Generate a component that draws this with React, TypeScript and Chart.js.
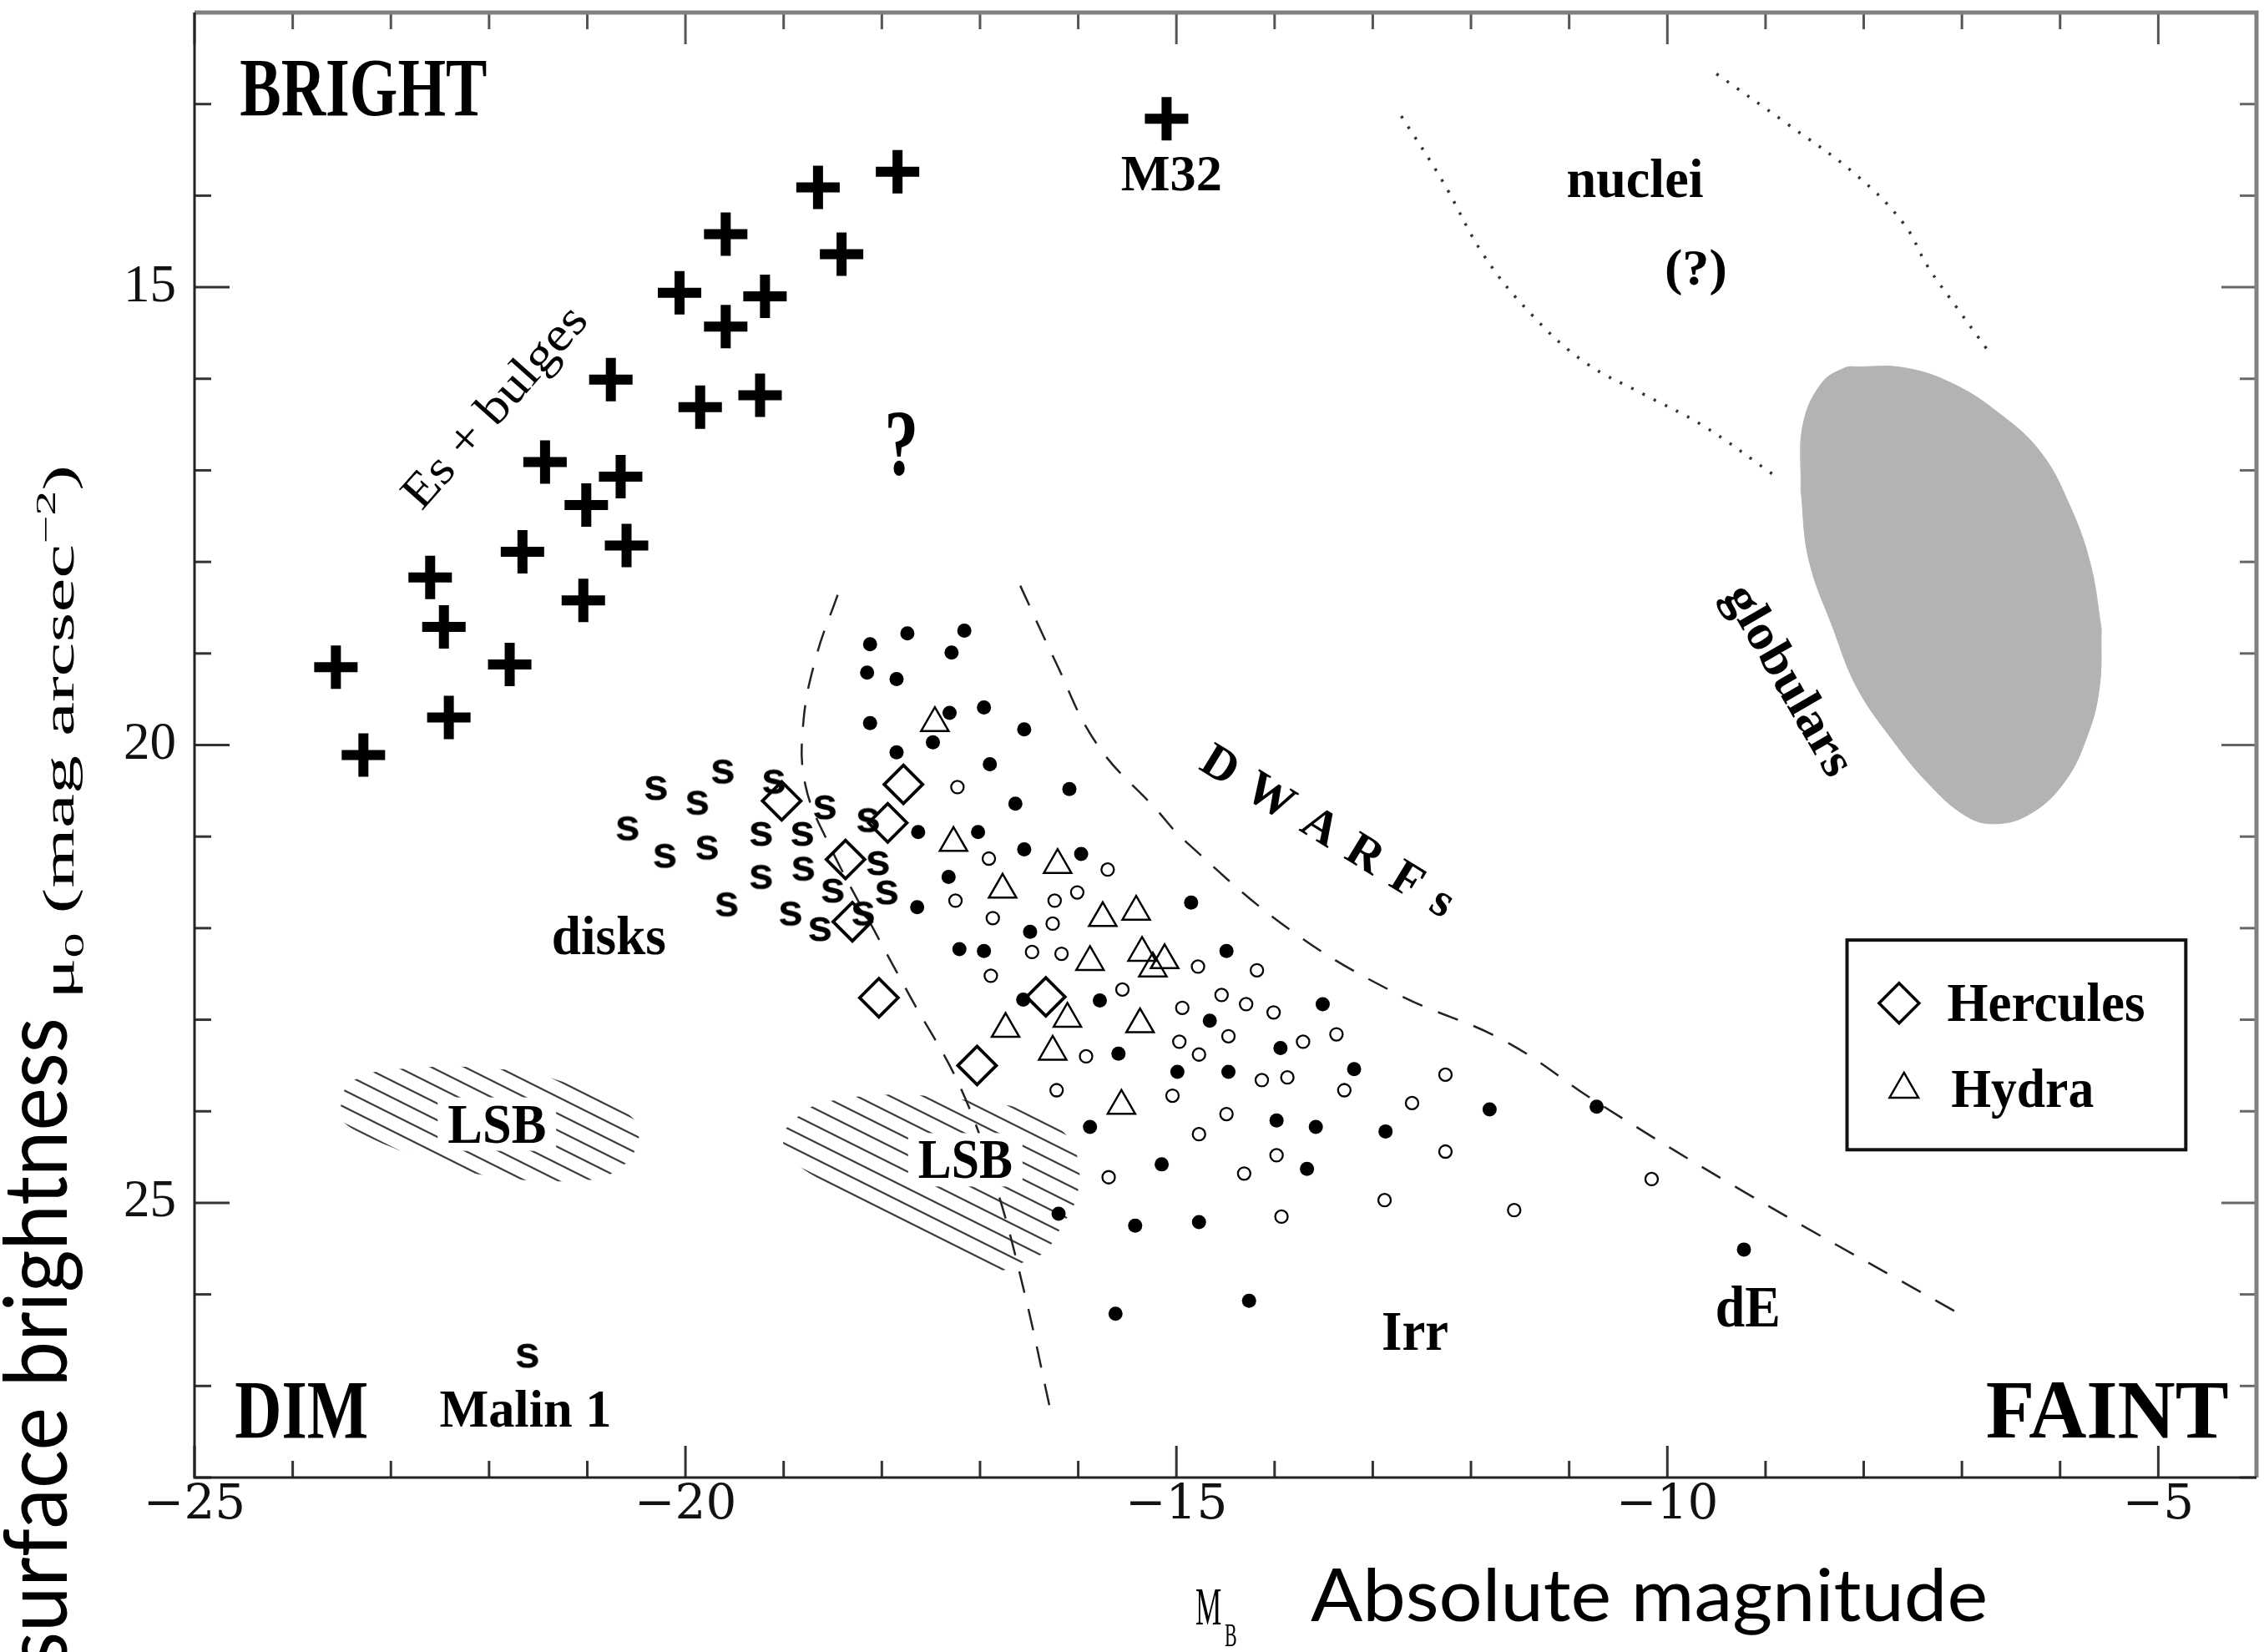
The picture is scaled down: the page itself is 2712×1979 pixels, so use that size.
import React, { useEffect, useRef } from "react";
import { Chart, registerables } from "chart.js";

Chart.register(...registerables);

type Pt = [number, number];

// ---------- axes ----------
const X_MIN = -25;
const X_MAX = -4;
const Y_MIN = 12;
const Y_MAX = 28;
const X_TICKS = [-25, -20, -15, -10, -5];
const X_TICK_LABELS = ["−25", "−20", "−15", "−10", "−5"];
const Y_TICKS = [15, 20, 25];
const Y_TICK_LABELS = ["15", "20", "25"];

// ---------- point data (M_B, mu_0) ----------
const ES_BULGES: Pt[] = [
  [-23.56, 19.15], [-23.28, 20.11], [-22.6, 18.17], [-22.46, 18.71], [-22.41, 19.7],
  [-21.79, 19.12], [-21.66, 17.89], [-21.43, 16.91], [-21.04, 18.42], [-21.01, 17.38],
  [-20.76, 16.01], [-20.66, 17.07], [-20.6, 17.82], [-20.06, 15.06], [-19.85, 16.31],
  [-19.59, 14.42], [-19.59, 15.43], [-19.24, 16.18], [-19.19, 15.1], [-18.65, 13.91],
  [-18.41, 14.64], [-17.84, 13.74],
];
const M32: Pt[] = [[-15.1, 13.16]];

const SPIRALS: Pt[] = [
  [-19.62, 20.29], [-20.3, 20.47], [-19.88, 20.63], [-19.1, 20.4], [-20.59, 20.91],
  [-19.23, 20.97], [-18.58, 20.68], [-18.81, 20.97], [-20.21, 21.21], [-19.78, 21.12],
  [-18.14, 20.82], [-18.8, 21.35], [-19.23, 21.44], [-18.04, 21.29], [-18.5, 21.59],
  [-19.58, 21.74], [-18.93, 21.84], [-18.63, 22.01], [-17.95, 21.61], [-18.19, 21.84],
];
const MALIN1: Pt[] = [[-21.61, 26.67]];

const HERCULES: Pt[] = [
  [-19.02, 20.61], [-17.78, 20.43], [-17.94, 20.85], [-18.37, 21.25],
  [-18.3, 21.93], [-18.03, 22.76], [-16.33, 22.75], [-17.03, 23.5],
];

const HYDRA: Pt[] = [
  [-17.46, 19.76], [-17.27, 21.07], [-16.21, 21.31], [-16.77, 21.58], [-15.75, 21.89],
  [-15.41, 21.82], [-15.88, 22.37], [-15.35, 22.27], [-15.12, 22.35], [-15.24, 22.44],
  [-16.11, 22.99], [-16.74, 23.1], [-15.37, 23.05], [-16.26, 23.35], [-15.56, 23.94],
];

const DWARFS_FILLED: Pt[] = [
  [-18.12, 18.9], [-17.74, 18.78], [-17.16, 18.75], [-18.15, 19.21], [-17.85, 19.28],
  [-17.29, 18.99], [-18.12, 19.76], [-17.31, 19.65], [-16.96, 19.59], [-16.55, 19.83],
  [-17.48, 19.97], [-17.85, 20.08], [-16.9, 20.21], [-16.09, 20.48], [-16.64, 20.64],
  [-17.63, 20.95], [-17.02, 20.95], [-16.55, 21.14], [-15.97, 21.19], [-17.32, 21.44],
  [-17.64, 21.77], [-16.49, 22.04], [-17.21, 22.23], [-16.96, 22.25], [-16.56, 22.78],
  [-15.78, 22.79], [-15.59, 23.37], [-14.85, 21.72], [-14.49, 22.25], [-13.51, 22.83],
  [-14.66, 23.01], [-13.94, 23.31], [-14.99, 23.57], [-14.47, 23.57], [-13.19, 23.54],
  [-11.81, 23.98], [-10.72, 23.95], [-15.88, 24.17], [-13.98, 24.1], [-13.58, 24.17],
  [-12.87, 24.22], [-15.15, 24.58], [-13.67, 24.63], [-16.2, 25.12], [-15.42, 25.25],
  [-14.77, 25.21], [-9.22, 25.51], [-15.62, 26.21], [-14.26, 26.07],
];

const DWARFS_OPEN: Pt[] = [
  [-17.23, 20.46], [-16.91, 21.24], [-15.7, 21.36], [-16.01, 21.61], [-16.24, 21.7],
  [-17.25, 21.7], [-16.87, 21.89], [-16.26, 21.95], [-16.47, 22.26], [-16.17, 22.28],
  [-16.89, 22.52], [-15.55, 22.67], [-15.92, 23.4], [-14.78, 22.42], [-14.18, 22.46],
  [-14.54, 22.73], [-14.29, 22.83], [-14.94, 22.87], [-14.01, 22.92], [-14.47, 23.18],
  [-14.97, 23.24], [-13.71, 23.24], [-13.37, 23.16], [-14.77, 23.38], [-14.13, 23.66],
  [-13.87, 23.63], [-16.22, 23.77], [-13.29, 23.77], [-12.26, 23.6], [-15.04, 23.83],
  [-12.6, 23.91], [-14.49, 24.03], [-14.77, 24.25], [-13.98, 24.48], [-12.26, 24.44],
  [-15.69, 24.72], [-14.31, 24.68], [-10.16, 24.74], [-12.88, 24.97], [-11.56, 25.08],
  [-13.93, 25.15],
];

// ---------- boundary curves ----------
const DWARF_EDGE_LEFT: Pt[] = [
  [-18.45, 18.36], [-18.67, 19.04], [-18.8, 19.76], [-18.78, 20.43], [-18.54, 21.08],
  [-18.06, 22.06], [-17.71, 22.75], [-17.2, 23.74], [-16.84, 24.81], [-16.55, 25.97],
  [-16.29, 27.23],
];
const DWARF_EDGE_RIGHT: Pt[] = [
  [-16.59, 18.26], [-16.24, 19.07], [-15.81, 19.99], [-15.2, 20.71], [-14.92, 21.04],
  [-13.84, 22.02], [-12.75, 22.72], [-11.66, 23.23], [-10.69, 23.92], [-9.17, 24.91],
  [-7.03, 26.21],
];
const NUCLEI_EDGE_LEFT: Pt[] = [
  [-12.71, 13.13], [-12.29, 13.84], [-11.87, 14.65], [-11.39, 15.29], [-10.84, 15.82],
  [-10.24, 16.17], [-9.64, 16.51], [-8.89, 17.07],
];
const NUCLEI_EDGE_RIGHT: Pt[] = [
  [-9.5, 12.67], [-8.8, 13.2], [-8.07, 13.78], [-7.59, 14.31], [-7.35, 14.77],
  [-7.04, 15.24], [-6.75, 15.67],
];

// ---------- regions (upper / lower outlines) ----------
const GLOBULARS_TOP: Pt[] = [
  [-8.64, 17.21], [-8.62, 16.51], [-8.43, 16.05], [-8.19, 15.88], [-8.07, 15.87],
  [-7.59, 15.88], [-7.1, 16.05], [-6.63, 16.37], [-6.2, 16.8], [-5.9, 17.39],
  [-5.69, 18.03], [-5.58, 18.73],
];
const GLOBULARS_BOTTOM: Pt[] = [
  [-8.64, 17.21], [-8.56, 17.97], [-8.31, 18.73], [-8.07, 19.37], [-7.71, 19.94],
  [-7.35, 20.41], [-6.98, 20.76], [-6.69, 20.86], [-6.32, 20.76], [-5.96, 20.41],
  [-5.72, 19.89], [-5.6, 19.37], [-5.58, 18.73],
];
const LSB_LEFT_TOP: Pt[] = [
  [-23.52, 24.0], [-23.46, 23.74], [-23.32, 23.63], [-23.11, 23.56], [-22.78, 23.53],
  [-22.45, 23.51], [-22.03, 23.53], [-21.62, 23.57], [-21.3, 23.66], [-20.87, 23.82],
  [-20.49, 24.12], [-20.47, 24.22],
];
const LSB_LEFT_BOTTOM: Pt[] = [
  [-23.52, 24.0], [-23.48, 24.12], [-23.23, 24.28], [-22.88, 24.44], [-22.54, 24.59],
  [-21.91, 24.72], [-21.51, 24.76], [-21.13, 24.76], [-20.84, 24.72], [-20.66, 24.61],
  [-20.55, 24.5], [-20.48, 24.32], [-20.47, 24.22],
];
const LSB_RIGHT_TOP: Pt[] = [
  [-19.01, 24.22], [-18.73, 23.96], [-18.48, 23.88], [-18.14, 23.83], [-17.71, 23.82],
  [-17.29, 23.86], [-16.86, 23.91], [-16.52, 23.99], [-16.23, 24.15], [-16.04, 24.4],
  [-15.98, 24.72],
];
const LSB_RIGHT_BOTTOM: Pt[] = [
  [-19.01, 24.22], [-18.99, 24.4], [-18.86, 24.58], [-18.56, 24.79], [-18.14, 25.05],
  [-17.63, 25.34], [-17.12, 25.63], [-16.82, 25.74], [-16.61, 25.67], [-16.35, 25.54],
  [-16.17, 25.26], [-16.03, 24.99], [-15.98, 24.72],
];

// ---------- annotation texts (positions in data units) ----------
const LABELS = [
  { text: "BRIGHT", x: -23.28, y: 12.83, size: 100, width: 296 },
  { text: "DIM", x: -23.91, y: 27.27, size: 100, width: 160 },
  { text: "FAINT", x: -5.52, y: 27.27, size: 100, width: 291 },
  { text: "M32", x: -15.05, y: 13.76, size: 62, width: 121 },
  { text: "?", x: -17.8, y: 16.71, size: 112, width: 41 },
  { text: "nuclei", x: -10.33, y: 13.81, size: 66, width: 164 },
  { text: "(?)", x: -9.71, y: 14.84, size: 62, width: 75 },
  { text: "disks", x: -20.78, y: 22.08, size: 66, width: 137 },
  { text: "Irr", x: -12.57, y: 26.4, size: 68, width: 80 },
  { text: "dE", x: -9.18, y: 26.13, size: 70, width: 78 },
  { text: "Malin 1", x: -21.63, y: 27.25, size: 64, width: 206 },
  { text: "globulars", x: -8.79, y: 19.31, size: 60, width: 255, angle: 60 },
  { text: "Es + bulges", x: -21.92, y: 16.33, size: 58, width: 304, angle: -48.5, weight: "normal" },
];
const LSB_LABELS = [
  { text: "LSB", x: -21.92, y: 24.14, size: 68, width: 118 },
  { text: "LSB", x: -17.15, y: 24.53, size: 68, width: 113 },
];
const DWARFS_LABEL = { chars: ["D", "W", "A", "R", "F", "s"], x: -13.45, y: 20.93, size: 58, length: 345, angle: 31.5 };
const LEGEND_BOX = { x0: -8.17, x1: -4.72, y0: 22.13, y1: 24.42 };
const LEGEND_ROWS = [
  { label: "Hercules", marker: "diamond", mx: -7.64, my: 22.82, tx: -7.15, width: 237 },
  { label: "Hydra", marker: "triangle", mx: -7.59, my: 23.76, tx: -7.11, width: 171 },
];

const W = 2712;
const H = 1979;
const SERIF = '"Liberation Serif", "DejaVu Serif", serif';
const TICK_SERIF = '"DejaVu Serif", "Liberation Serif", serif';
const SANS = 'Lato, "Open Sans", sans-serif';

const xy = (a: Pt[]) => a.map(([x, y]) => ({ x, y }));

function drawText(ctx: CanvasRenderingContext2D, text: string, x: number, y: number, o: any) {
  ctx.save();
  ctx.font = o.font;
  ctx.fillStyle = o.color || "#000";
  ctx.textAlign = "left";
  ctx.textBaseline = "alphabetic";
  const m = ctx.measureText(text);
  const w = m.width;
  const sx = o.width ? o.width / w : o.sx || 1;
  ctx.translate(x, y);
  if (o.angle) ctx.rotate((o.angle * Math.PI) / 180);
  ctx.scale(sx, 1);
  const dx = o.align === "left" ? 0 : o.align === "right" ? -w : -w / 2;
  const dy = o.baseline ? 0 : (m.actualBoundingBoxAscent - m.actualBoundingBoxDescent) / 2;
  ctx.fillText(text, dx, dy);
  ctx.restore();
}

function makeSGlyph() {
  const c = document.createElement("canvas");
  c.width = 48;
  c.height = 48;
  const g = c.getContext("2d")!;
  g.font = 'bold 54px "Liberation Sans", Arial, sans-serif';
  g.fillStyle = "#000";
  g.textAlign = "center";
  g.textBaseline = "alphabetic";
  const m = g.measureText("s");
  g.fillText("s", 24, 24 + (m.actualBoundingBoxAscent - m.actualBoundingBoxDescent) / 2);
  return c;
}

function makeHatch(ctx: CanvasRenderingContext2D) {
  const t = document.createElement("canvas");
  t.width = 40;
  t.height = 20;
  const g = t.getContext("2d")!;
  g.strokeStyle = "#3c3c3c";
  g.lineWidth = 2.2;
  g.beginPath();
  for (let k = -1; k <= 1; k++) {
    g.moveTo(-20, -10 + k * 20);
    g.lineTo(60, 30 + k * 20);
  }
  g.stroke();
  return ctx.createPattern(t, "repeat");
}

const decorPlugin = {
  id: "decor",
  afterDatasetsDraw(chart: any) {
    const ctx: CanvasRenderingContext2D = chart.ctx;
    const xs = chart.scales.x;
    const ys = chart.scales.y;
    LSB_LABELS.forEach((l) => {
      const px = xs.getPixelForValue(l.x);
      const py = ys.getPixelForValue(l.y);
      ctx.save();
      ctx.fillStyle = "#fff";
      ctx.fillRect(px - l.width / 2 - 12, py - 32, l.width + 24, 64);
      ctx.restore();
      drawText(ctx, l.text, px, py, { font: `bold ${l.size}px ${SERIF}`, width: l.width });
    });
  },
  afterDraw(chart: any) {
    const ctx: CanvasRenderingContext2D = chart.ctx;
    const xs = chart.scales.x;
    const ys = chart.scales.y;
    const a = chart.chartArea;

    // inward ticks on all four sides
    ctx.save();
    ctx.lineWidth = 3;
    for (let v = X_MIN; v <= X_MAX; v++) {
      const px = xs.getPixelForValue(v);
      const len = v % 5 === 0 ? 38 : 20;
      ctx.strokeStyle = "#333";
      ctx.beginPath();
      ctx.moveTo(px, a.bottom);
      ctx.lineTo(px, a.bottom - len);
      ctx.stroke();
      ctx.strokeStyle = "#555";
      ctx.beginPath();
      ctx.moveTo(px, a.top);
      ctx.lineTo(px, a.top + len);
      ctx.stroke();
    }
    for (let v = Y_MIN; v <= Y_MAX; v++) {
      const py = ys.getPixelForValue(v);
      const len = v % 5 === 0 ? 42 : 20;
      ctx.strokeStyle = "#333";
      ctx.beginPath();
      ctx.moveTo(a.left, py);
      ctx.lineTo(a.left + len, py);
      ctx.stroke();
      ctx.strokeStyle = "#666";
      ctx.beginPath();
      ctx.moveTo(a.right, py);
      ctx.lineTo(a.right - len, py);
      ctx.stroke();
    }
    // frame
    ctx.strokeStyle = "#808080";
    ctx.lineWidth = 5;
    ctx.beginPath();
    ctx.moveTo(a.left, a.top);
    ctx.lineTo(a.right, a.top);
    ctx.lineTo(a.right, a.bottom);
    ctx.stroke();
    ctx.strokeStyle = "#222";
    ctx.lineWidth = 3;
    ctx.beginPath();
    ctx.moveTo(a.left, a.top);
    ctx.lineTo(a.left, a.bottom);
    ctx.lineTo(a.right, a.bottom);
    ctx.stroke();
    ctx.restore();

    // text annotations
    LABELS.forEach((l: any) => {
      drawText(ctx, l.text, xs.getPixelForValue(l.x), ys.getPixelForValue(l.y), {
        font: `${l.weight || "bold"} ${l.size}px ${SERIF}`,
        width: l.width,
        angle: l.angle || 0,
      });
    });

    // spaced "DWARFs"
    {
      const d = DWARFS_LABEL;
      ctx.save();
      ctx.font = `bold ${d.size}px ${SERIF}`;
      ctx.fillStyle = "#000";
      ctx.translate(xs.getPixelForValue(d.x), ys.getPixelForValue(d.y));
      ctx.rotate((d.angle * Math.PI) / 180);
      const ws = d.chars.map((c) => ctx.measureText(c).width);
      const sum = ws.reduce((p, q) => p + q, 0);
      const gap = (d.length - sum) / (d.chars.length - 1);
      const cap = ctx.measureText("D").actualBoundingBoxAscent;
      let cx = -d.length / 2;
      d.chars.forEach((c, i) => {
        ctx.fillText(c, cx, cap / 2);
        cx += ws[i] + gap;
      });
      ctx.restore();
    }

    // legend box
    {
      const bx0 = xs.getPixelForValue(LEGEND_BOX.x0);
      const bx1 = xs.getPixelForValue(LEGEND_BOX.x1);
      const by0 = ys.getPixelForValue(LEGEND_BOX.y0);
      const by1 = ys.getPixelForValue(LEGEND_BOX.y1);
      ctx.save();
      ctx.fillStyle = "#fff";
      ctx.fillRect(bx0, by0, bx1 - bx0, by1 - by0);
      ctx.strokeStyle = "#111";
      ctx.lineWidth = 4;
      ctx.strokeRect(bx0, by0, bx1 - bx0, by1 - by0);
      LEGEND_ROWS.forEach((r) => {
        const mx = xs.getPixelForValue(r.mx);
        const my = ys.getPixelForValue(r.my);
        ctx.strokeStyle = "#000";
        ctx.beginPath();
        if (r.marker === "diamond") {
          const rr = 24;
          ctx.lineWidth = 3.5;
          ctx.moveTo(mx - rr, my);
          ctx.lineTo(mx, my - rr);
          ctx.lineTo(mx + rr, my);
          ctx.lineTo(mx, my + rr);
        } else {
          const rr = 20;
          ctx.lineWidth = 2.5;
          ctx.moveTo(mx, my - rr);
          ctx.lineTo(mx + rr * 0.866, my + rr / 2);
          ctx.lineTo(mx - rr * 0.866, my + rr / 2);
        }
        ctx.closePath();
        ctx.stroke();
        ctx.font = `bold 65px ${SERIF}`;
        const capH = ctx.measureText("H").actualBoundingBoxAscent;
        drawText(ctx, r.label, xs.getPixelForValue(r.tx), my + capH / 2, {
          font: `bold 65px ${SERIF}`,
          width: r.width,
          align: "left",
          baseline: true,
        });
      });
      ctx.restore();
    }

    // axis titles
    drawText(ctx, "surface brightness", 80, 1997, {
      font: `104px ${SANS}`,
      angle: -90,
      width: 778,
      align: "left",
      baseline: true,
    });
    {
      ctx.save();
      ctx.fillStyle = "#000";
      ctx.translate(88, 1197);
      ctx.rotate(-Math.PI / 2);
      const pieces = [
        { t: "μ", f: `52px ${SERIF}`, dy: 0 },
        { t: "0", f: `34px ${SERIF}`, dy: 12 },
        { t: " (mag arcsec", f: `52px ${SERIF}`, dy: 0 },
        { t: "−2", f: `34px ${SERIF}`, dy: -22 },
        { t: ")", f: `52px ${SERIF}`, dy: 0 },
      ];
      const ws = pieces.map((p) => {
        ctx.font = p.f;
        return ctx.measureText(p.t).width;
      });
      const tot = ws.reduce((p, q) => p + q, 0);
      ctx.scale(640 / tot, 1);
      let cx = 0;
      pieces.forEach((p, i) => {
        ctx.font = p.f;
        ctx.fillText(p.t, cx, p.dy);
        cx += ws[i];
      });
      ctx.restore();
    }
    drawText(ctx, "M", 1432, 1946, { font: `64px ${SERIF}`, sx: 0.55, align: "left", baseline: true });
    drawText(ctx, "B", 1467, 1972, { font: `40px ${SERIF}`, sx: 0.55, align: "left", baseline: true });
    drawText(ctx, "Absolute magnitude", 1570, 1942, {
      font: `88px ${SANS}`,
      width: 811,
      align: "left",
      baseline: true,
    });
  },
};

export default function App() {
  const ref = useRef<HTMLCanvasElement>(null);
  useEffect(() => {
    const canvas = ref.current!;
    const ctx = canvas.getContext("2d")!;
    const hatch = makeHatch(ctx);
    const sGlyph = makeSGlyph();
    const none = "rgba(0,0,0,0)";

    const marker = (label: string, data: Pt[], o: any) => ({
      type: "scatter",
      label,
      data: xy(data),
      order: 0,
      ...o,
    });
    const curve = (label: string, data: Pt[], o: any) => ({
      type: "line",
      label,
      data: xy(data),
      pointRadius: 0,
      fill: false,
      tension: 0.4,
      ...o,
    });

    const datasets: any[] = [
      curve("globulars", GLOBULARS_TOP, { fill: "+1", backgroundColor: "#b3b3b3", borderColor: "#b3b3b3", borderWidth: 1, order: 10 }),
      curve("globulars-lower", GLOBULARS_BOTTOM, { backgroundColor: "#b3b3b3", borderColor: "#b3b3b3", borderWidth: 1, order: 10 }),
      curve("LSB (bright)", LSB_LEFT_TOP, { fill: "+1", backgroundColor: hatch, borderColor: none, borderWidth: 1, order: 10 }),
      curve("LSB (bright)-lower", LSB_LEFT_BOTTOM, { borderColor: none, borderWidth: 1, order: 10 }),
      curve("LSB (faint)", LSB_RIGHT_TOP, { fill: "+1", backgroundColor: hatch, borderColor: none, borderWidth: 1, order: 10 }),
      curve("LSB (faint)-lower", LSB_RIGHT_BOTTOM, { borderColor: none, borderWidth: 1, order: 10 }),
      curve("dwarf edge left", DWARF_EDGE_LEFT, { borderColor: "#222", borderWidth: 2.5, borderDash: [26, 20], order: 5 }),
      curve("dwarf edge right", DWARF_EDGE_RIGHT, { borderColor: "#222", borderWidth: 2.5, borderDash: [26, 20], order: 5 }),
      curve("nuclei edge left", NUCLEI_EDGE_LEFT, { borderColor: "#333", borderWidth: 3.5, borderDash: [3, 12], order: 5 }),
      curve("nuclei edge right", NUCLEI_EDGE_RIGHT, { borderColor: "#333", borderWidth: 3.5, borderDash: [3, 12], order: 5 }),
      marker("Es + bulges", ES_BULGES, { pointStyle: "cross", pointRadius: 26, pointBorderWidth: 12, pointBorderColor: "#000", borderColor: "#000" }),
      marker("M32", M32, { pointStyle: "cross", pointRadius: 26, pointBorderWidth: 12, pointBorderColor: "#000", borderColor: "#000" }),
      marker("disks", SPIRALS, { pointStyle: sGlyph, pointRadius: 12 }),
      marker("Malin 1", MALIN1, { pointStyle: sGlyph, pointRadius: 12 }),
      marker("dwarfs (filled)", DWARFS_FILLED, { pointStyle: "circle", pointRadius: 8.5, pointBackgroundColor: "#000", backgroundColor: "#000", pointBorderWidth: 0, borderColor: "#000" }),
      marker("dwarfs (open)", DWARFS_OPEN, { pointStyle: "circle", pointRadius: 7.5, pointBackgroundColor: "#fff", backgroundColor: "#fff", pointBorderColor: "#000", borderColor: "#000", pointBorderWidth: 2.3 }),
      marker("Hydra", HYDRA, { pointStyle: "triangle", pointRadius: 19, pointBackgroundColor: none, backgroundColor: none, pointBorderColor: "#000", borderColor: "#000", pointBorderWidth: 2.5 }),
      marker("Hercules", HERCULES, { pointStyle: "rectRot", pointRadius: 23, pointBackgroundColor: none, backgroundColor: none, pointBorderColor: "#000", borderColor: "#000", pointBorderWidth: 3.8 }),
    ];

    const chart = new Chart(canvas, {
      type: "scatter",
      data: { datasets },
      options: {
        responsive: false,
        animation: false,
        events: [],
        layout: { autoPadding: false, padding: { top: 15, right: 9, left: 0, bottom: 0 } },
        plugins: {
          legend: { display: false },
          tooltip: { enabled: false },
          title: { display: false },
        },
        scales: {
          x: {
            type: "linear",
            position: "bottom",
            min: X_MIN,
            max: X_MAX,
            afterBuildTicks: (s: any) => {
              s.ticks = X_TICKS.map((v) => ({ value: v }));
            },
            afterFit: (s: any) => {
              s.height = 209;
              s.paddingLeft = 0;
              s.paddingRight = 0;
            },
            grid: { display: false, drawTicks: false },
            border: { display: false },
            ticks: {
              autoSkip: false,
              maxRotation: 0,
              padding: 5,
              color: "#111",
              font: { family: TICK_SERIF, size: 58, lineHeight: 1 },
              callback: (v: any) => {
                const i = X_TICKS.indexOf(Number(v));
                return i >= 0 ? X_TICK_LABELS[i] : "";
              },
            },
          },
          y: {
            type: "linear",
            position: "left",
            reverse: true,
            min: Y_MIN,
            max: Y_MAX,
            afterBuildTicks: (s: any) => {
              s.ticks = Y_TICKS.map((v) => ({ value: v }));
            },
            afterFit: (s: any) => {
              s.width = 233;
              s.paddingTop = 0;
              s.paddingBottom = 0;
            },
            grid: { display: false, drawTicks: false },
            border: { display: false },
            ticks: {
              autoSkip: false,
              padding: 22,
              color: "#111",
              font: { family: SERIF, size: 63, lineHeight: 1 },
              callback: (v: any) => {
                const i = Y_TICKS.indexOf(Number(v));
                return i >= 0 ? Y_TICK_LABELS[i] : "";
              },
            },
          },
        },
      } as any,
      plugins: [decorPlugin],
    } as any);
    return () => chart.destroy();
  }, []);

  return (
    <div style={{ position: "absolute", left: 0, top: 0, width: W, height: H, background: "#fff", overflow: "hidden" }}>
      <canvas ref={ref} width={W} height={H} style={{ display: "block", width: W, height: H }} />
    </div>
  );
}
